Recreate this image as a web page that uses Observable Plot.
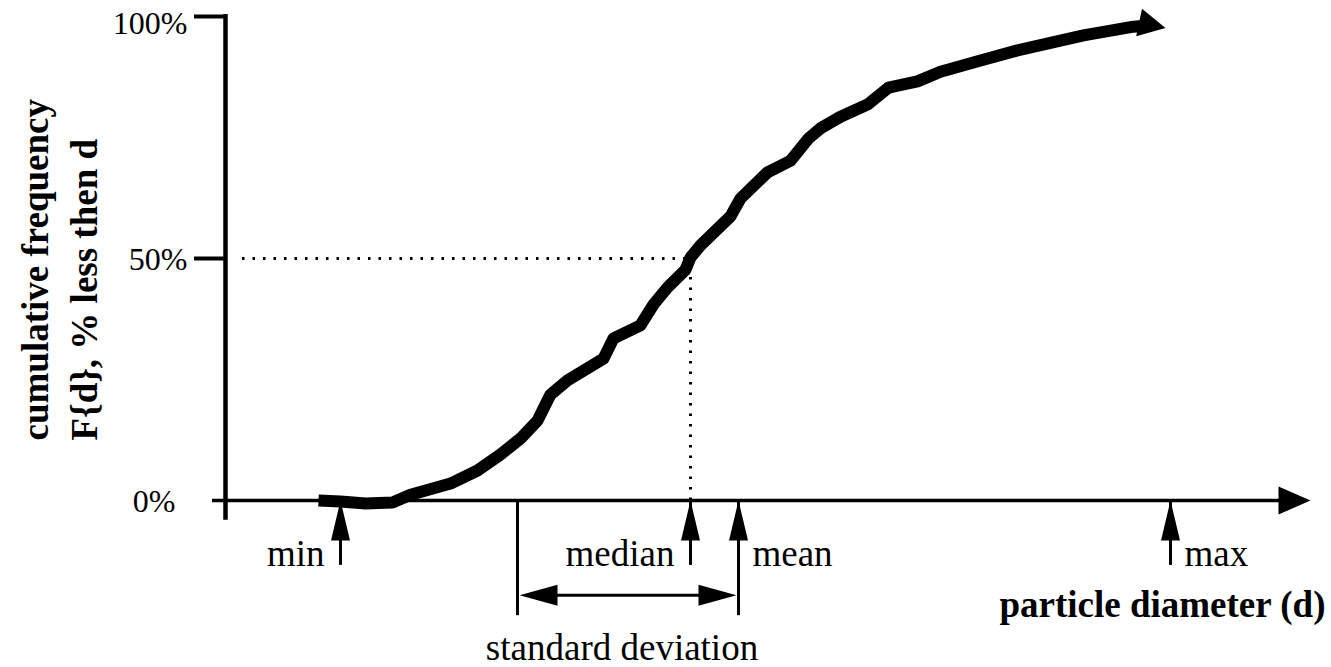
<!DOCTYPE html>
<html><head><meta charset="utf-8">
<script src="https://cdn.jsdelivr.net/npm/d3@7"></script>
<script src="https://cdn.jsdelivr.net/npm/@observablehq/plot@0.6"></script>
<style>
  html,body{margin:0;padding:0;background:#fff}
  #chart svg{font-family:"Liberation Serif","Times New Roman",serif}
</style>
</head><body><div id="chart"></div>
<script>
// ---- data ----
const curveDiameter = [9.1, 11.3, 13.8, 16.5, 18.3, 22.3, 25.0, 27.3, 29.3, 31.0, 32.3, 34.0, 37.6, 38.6, 41.3, 42.6, 44.0, 45.8, 46.3, 47.3, 50.3, 51.3, 54.0, 56.3, 58.1, 59.3, 61.3, 64.0, 66.1, 69.0, 71.3, 75.3, 79.0, 85.6, 90.6, 91.8];
const curvePercent  = [0, -0.2, -0.6, -0.4, 1.2, 3.5, 6.2, 9.5, 12.8, 16.5, 21.9, 24.8, 29.3, 33.5, 36.2, 40.5, 44.0, 47.7, 50.2, 52.7, 58.7, 62.4, 67.8, 70.2, 74.8, 76.9, 79.3, 81.8, 85.3, 86.6, 88.6, 90.9, 93.0, 96.1, 97.9, 98.1];
const curveTip = {d: 93.8, p: 97.6};
const yTickValues = [0, 50, 100];
const yTickLabels = ["0%", "50%", "100%"];
const statNames  = ["min", "median", "mean", "max"];
const statValues = [11.3, 46.3, 51.1, 94.3];
const sdRange = [29.0, 51.1];
const medianPercent = 50;
const xTitle = "particle diameter (d)";
const yTitleLines = ["cumulative frequency", "F{d}, % less then d"];
const sdLabel = "standard deviation";

// ---- helpers ----
const curve = curveDiameter.map((d, i) => ({d, p: curvePercent[i]}));
const stats = statNames.map((name, i) => ({name, d: statValues[i]}));
function arrowHead(L, W) {
  return {draw(ctx) { ctx.moveTo(0, 0); ctx.lineTo(W / 2, L); ctx.lineTo(-W / 2, L); ctx.closePath(); }};
}
const labelFont = {fontSize: 37, fill: "black", fontFamily: "Liberation Serif"};
const tickFont = {fontSize: 32, fill: "black", fontFamily: "Liberation Serif"};
const boldFont = {fontSize: 37, fontWeight: "bold", fill: "black", fontFamily: "Liberation Serif"};
const median = statValues[1];

const chart = Plot.plot({
  width: 1331, height: 667,
  marginLeft: 227, marginRight: 104, marginTop: 16, marginBottom: 167,
  x: {domain: [0, 100], axis: null},
  y: {domain: [0, 100], axis: null},
  style: {background: "white", fontFamily: "Liberation Serif"},
  marks: [
    // dotted median guides
    Plot.ruleY([medianPercent], {x1: 1.5, x2: median, stroke: "black", strokeWidth: 3, strokeDasharray: "2.5,8"}),
    Plot.ruleX([median], {y1: 0, y2: medianPercent, stroke: "black", strokeWidth: 3, strokeDasharray: "2.5,8"}),
    // axes
    Plot.ruleY([0], {x1: -1.5, x2: 106, stroke: "black", strokeWidth: 3.5}),
    Plot.dot([{d: 108.3, p: 0}], {x: "d", y: "p", symbol: arrowHead(32, 28), rotate: 90, fill: "black", stroke: null}),
    Plot.ruleX([-0.2], {y1: -4.1, y2: 100.4, stroke: "black", strokeWidth: 4.5}),
    Plot.ruleY(yTickValues.filter(v => v > 0), {x1: -3.3, x2: 0, stroke: "black", strokeWidth: 4}),
    // tick labels
    Plot.text([yTickLabels[2]], {x: -4.0, y: yTickValues[2], text: d => d, textAnchor: "end", dy: 7, ...tickFont}),
    Plot.text([yTickLabels[1]], {x: -4.0, y: yTickValues[1], text: d => d, textAnchor: "end", dy: 1, ...tickFont}),
    Plot.text([yTickLabels[0]], {x: -5.2, y: yTickValues[0], text: d => d, textAnchor: "end", dy: 1, ...tickFont}),
    // cumulative curve
    Plot.line(curve, {x: "d", y: "p", stroke: "black", strokeWidth: 12, strokeLinejoin: "round", strokeLinecap: "butt", curve: "linear"}),
    Plot.dot([curveTip], {x: "d", y: "p", symbol: arrowHead(27, 28), rotate: 102, fill: "black", stroke: null}),
    // statistic arrows
    Plot.ruleX(stats, {x: "d", y1: -13.4, y2: 0, stroke: "black", strokeWidth: 3}),
    Plot.dot(stats, {x: "d", y: () => 0, symbol: arrowHead(40, 19), fill: "black", stroke: null}),
    Plot.text(stats.filter(s => s.name === "min" || s.name === "median"), {x: "d", y: () => 0, text: "name", textAnchor: "end", dx: -16, dy: 54, ...labelFont}),
    Plot.text(stats.filter(s => s.name === "mean" || s.name === "max"), {x: "d", y: () => 0, text: "name", textAnchor: "start", dx: 14, dy: 54, ...labelFont}),
    // standard deviation bracket
    Plot.ruleX(sdRange, {y1: -23.8, y2: 0, stroke: "black", strokeWidth: 3}),
    Plot.ruleY([-19.6], {x1: sdRange[0] + 2, x2: sdRange[1] - 2, stroke: "black", strokeWidth: 3}),
    Plot.dot([{d: sdRange[0] + 0.2, r: -90}, {d: sdRange[1] - 0.2, r: 90}], {x: "d", y: () => -19.6, rotate: "r", symbol: arrowHead(38, 21), fill: "black", stroke: null}),
    Plot.text([sdLabel], {x: (sdRange[0] + sdRange[1]) / 2 - 0.6, y: 0, text: d => d, dy: 148, ...labelFont}),
    // axis titles
    Plot.text([xTitle], {x: 109.8, y: 0, text: d => d, textAnchor: "end", dy: 105, ...boldFont}),
    Plot.text([yTitleLines[0]], {x: -19.1, y: 12.4, text: d => d, rotate: -90, textAnchor: "start", ...boldFont}),
    Plot.text([yTitleLines[1]], {x: -14.2, y: 12.4, text: d => d, rotate: -90, textAnchor: "start", ...boldFont})
  ]
});
document.getElementById("chart").appendChild(chart);
</script>
</body></html>
